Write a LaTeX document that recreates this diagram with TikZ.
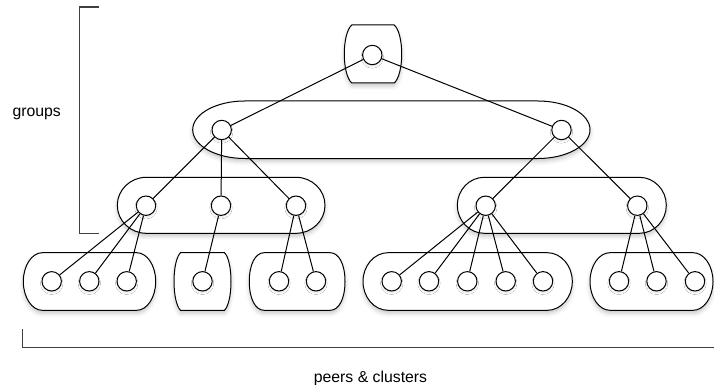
\documentclass[tikz,border=0pt]{standalone}
\usepackage{fontspec}
\setmainfont{Liberation Sans}
\usetikzlibrary{shadows.blur}
\newcommand\grpshape[6]{% L R T B a k
  \pgfmathsetmacro\gM{(#3+#4)/2}%
  \pgfmathsetmacro\gH{(#4-#3)/2}%
  \pgfmathsetmacro\gLa{#1+#5}%
  \pgfmathsetmacro\gRa{#2-#5}%
  \pgfmathsetmacro\gLc{#1+#5-#6*#5}%
  \pgfmathsetmacro\gRc{#2-#5+#6*#5}%
  \pgfmathsetmacro\gUp{\gM-#6*\gH}%
  \pgfmathsetmacro\gDn{\gM+#6*\gH}%
  \path[grp] (\gLa,#3) -- (\gRa,#3) .. controls (\gRc,#3) and (#2,\gUp) .. (#2,\gM)
    .. controls (#2,\gDn) and (\gRc,#4) .. (\gRa,#4) -- (\gLa,#4)
    .. controls (\gLc,#4) and (#1,\gDn) .. (#1,\gM)
    .. controls (#1,\gUp) and (\gLc,#3) .. (\gLa,#3) -- cycle;}
\newcommand\barrelshape[5]{% L R T B a
  \pgfmathsetmacro\gD{0.15*(#4-#3)}%
  \pgfmathsetmacro\gLa{#1+#5}%
  \pgfmathsetmacro\gRa{#2-#5}%
  \pgfmathsetmacro\gLc{#1-#5/3}%
  \pgfmathsetmacro\gRc{#2+#5/3}%
  \pgfmathsetmacro\gUp{#3+\gD}%
  \pgfmathsetmacro\gDn{#4-\gD}%
  \path[grp] (\gLa,#3) -- (\gRa,#3) .. controls (\gRc,\gUp) and (\gRc,\gDn) .. (\gRa,#4)
    -- (\gLa,#4) .. controls (\gLc,\gDn) and (\gLc,\gUp) .. (\gLa,#3) -- cycle;}
\begin{document}
\begin{tikzpicture}[x=1pt,y=-1pt,
  grp/.style={draw=black, line width=1pt, fill=white,
    blur shadow={shadow xshift=0pt, shadow yshift=-3pt, shadow blur radius=4pt, shadow opacity=22}},
  pt/.style={circle, draw=black, line width=1pt, fill=white, minimum size=19.4pt, inner sep=0pt,
    blur shadow={shadow xshift=0pt, shadow yshift=-2pt, shadow blur radius=1.5pt, shadow opacity=10}},
  edge/.style={draw=black, line width=1pt},
  brk/.style={draw=black!75, line width=1.3pt},
  lbl/.style={font=\fontsize{15.8}{18}\selectfont, inner sep=0pt}]
\useasboundingbox (0,0) rectangle (714,385);
% groups
\barrelshape{344.3}{401.7}{25}{83}{7.5}
\grpshape{192.7}{590}{101}{158.5}{52}{0.55}
\grpshape{117.3}{325}{177.3}{233.3}{29}{0.55}
\grpshape{457.3}{666.3}{177.3}{233.3}{27}{0.55}
\grpshape{23.3}{155.7}{252.7}{310.3}{19}{0.55}
\barrelshape{174}{231}{252.7}{310.3}{6.5}
\grpshape{249.3}{345}{252.7}{310.3}{15}{0.6}
\grpshape{363}{572.3}{252.7}{310.3}{25}{0.55}
\grpshape{590}{713}{252.7}{310.3}{20}{0.55}
% nodes
\node[pt] (t) at (372.3,55) {};
\node[pt] (a1) at (221.7,130) {};
\node[pt] (a2) at (561.5,130) {};
\node[pt] (b1) at (146,205.7) {};
\node[pt] (b2) at (221,205.7) {};
\node[pt] (b3) at (296,205.7) {};
\node[pt] (b4) at (485.7,205.7) {};
\node[pt] (b5) at (637.3,205.7) {};
\node[pt] (c1) at (51.7,281.3) {};
\node[pt] (c2) at (89.3,281.3) {};
\node[pt] (c3) at (126.7,281.3) {};
\node[pt] (c4) at (202.5,281.3) {};
\node[pt] (c5) at (279,281.3) {};
\node[pt] (c6) at (316,281.3) {};
\node[pt] (c7) at (391.7,281.3) {};
\node[pt] (c8) at (429,281.3) {};
\node[pt] (c9) at (467.3,281.3) {};
\node[pt] (c10) at (505.7,281.3) {};
\node[pt] (c11) at (543,281.3) {};
\node[pt] (c12) at (619,281.3) {};
\node[pt] (c13) at (656.5,281.3) {};
\node[pt] (c14) at (695,281.3) {};
% edges
\path[edge] (t) -- (a1) (t) -- (a2);
\path[edge] (a1) -- (b1) (a1) -- (b2) (a1) -- (b3);
\path[edge] (a2) -- (b4) (a2) -- (b5);
\path[edge] (b1) -- (c1) (b1) -- (c2) (b1) -- (c3);
\path[edge] (b2) -- (c4);
\path[edge] (b3) -- (c5) (b3) -- (c6);
\path[edge] (b4) -- (c7) (b4) -- (c8) (b4) -- (c9) (b4) -- (c10) (b4) -- (c11);
\path[edge] (b5) -- (c12) (b5) -- (c13) (b5) -- (c14);
% brackets
\path[brk] (99,7) -- (79.3,7) -- (79.3,233.3) -- (99,233.3);
\path[brk] (22.7,329.3) -- (22.7,347.7) -- (714,347.7);
% labels
\node[lbl, anchor=base] (g) at (36.7,116.7) {groups};
\node[lbl, anchor=base] (p) at (370.5,382.3) {peers \& clusters};
\end{tikzpicture}
\end{document}
